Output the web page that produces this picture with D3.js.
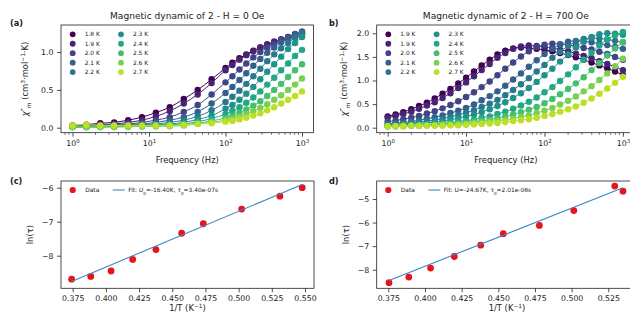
<!DOCTYPE html>
<html><head><meta charset="utf-8">
<script src="https://cdn.jsdelivr.net/npm/d3@7"></script>
<style>
body{margin:0;background:#fff}
svg{display:block}
text{font-family:"DejaVu Sans",sans-serif;fill:#222}
</style>
</head><body>
<svg id="fig" width="630" height="321"></svg>
<script>
// ---------------- DATA ----------------
const colors = ["#440154","#482475","#414487","#355f8d","#2a788e","#21918c","#22a884","#44bf70","#7ad151","#bddf26"];

// Panel (a): H = 0 Oe
const labelsA = ["1.8 K","1.9 K","2.0 K","2.1 K","2.2 K","2.3 K","2.4 K","2.5 K","2.6 K","2.7 K"];
const freqA = [1, 1.52, 2.31, 3.51, 5.34, 8.11, 12.3, 18.7, 28.5, 43.3, 65.8, 100, 123, 152, 187, 231, 285, 351, 433, 534, 658, 811, 1000];
const a18 = [0.03,0.04,0.06,0.07,0.10,0.14,0.20,0.27,0.38,0.50,0.64,0.79,0.86,0.92,0.97,1.02,1.06,1.10,1.13,1.16,1.18,1.20,1.22];
const a19 = [0.02,0.03,0.04,0.05,0.07,0.10,0.15,0.22,0.32,0.44,0.59,0.76,0.83,0.90,0.96,1.01,1.06,1.10,1.14,1.17,1.20,1.23,1.25];
const a20 = [0.02,0.02,0.03,0.04,0.05,0.07,0.10,0.14,0.21,0.30,0.44,0.60,0.68,0.77,0.85,0.93,1.00,1.06,1.11,1.16,1.20,1.24,1.27];
const a21 = [0.02,0.02,0.02,0.03,0.04,0.05,0.07,0.10,0.14,0.21,0.32,0.46,0.54,0.63,0.72,0.82,0.91,0.99,1.06,1.13,1.18,1.23,1.27];
const a22 = [0.02,0.02,0.02,0.02,0.03,0.04,0.05,0.07,0.10,0.15,0.23,0.34,0.41,0.49,0.58,0.68,0.78,0.88,0.97,1.05,1.12,1.19,1.25];
const a23 = [0.01,0.01,0.02,0.02,0.02,0.03,0.04,0.05,0.07,0.11,0.16,0.25,0.30,0.37,0.45,0.54,0.64,0.74,0.84,0.94,1.04,1.12,1.20];
const a24 = [0.01,0.01,0.01,0.02,0.02,0.02,0.03,0.04,0.05,0.08,0.12,0.18,0.22,0.27,0.33,0.40,0.48,0.57,0.66,0.76,0.85,0.95,1.03];
const a25 = [0.01,0.01,0.01,0.01,0.02,0.02,0.02,0.03,0.04,0.06,0.09,0.13,0.16,0.20,0.24,0.29,0.35,0.42,0.50,0.58,0.67,0.76,0.84];
const a26 = [0.01,0.01,0.01,0.01,0.01,0.02,0.02,0.02,0.03,0.05,0.07,0.10,0.12,0.15,0.18,0.22,0.26,0.31,0.37,0.43,0.50,0.57,0.65];
const a27 = [0.03,0.04,0.03,0.03,0.03,0.03,0.03,0.03,0.04,0.05,0.06,0.08,0.09,0.11,0.13,0.16,0.19,0.23,0.27,0.32,0.37,0.42,0.48];
const seriesA = [a18,a19,a20,a21,a22,a23,a24,a25,a26,a27];

// Panel (b): H = 700 Oe
const labelsB = ["1.9 K","1.9 K","2.0 K","2.1 K","2.2 K","2.3 K","2.4 K","2.5 K","2.6 K","2.7 K"];
const freqB = [1, 1.26, 1.58, 2.0, 2.51, 3.16, 3.98, 5.01, 6.31, 7.94, 10, 12.6, 15.8, 20.0, 25.1, 31.6, 39.8, 50.1, 63.1, 79.4, 100, 126, 158, 200, 251, 316, 398, 501, 631, 794, 1000];
const b19a = [0.24,0.28,0.33,0.39,0.46,0.53,0.62,0.72,0.82,0.94,1.06,1.19,1.32,1.44,1.55,1.63,1.68,1.70,1.69,1.67,1.65,1.62,1.58,1.54,1.49,1.44,1.38,1.32,1.26,1.19,1.12];
const b19b = [0.21,0.25,0.29,0.34,0.40,0.47,0.54,0.63,0.73,0.84,0.96,1.09,1.22,1.35,1.48,1.58,1.67,1.72,1.74,1.73,1.71,1.69,1.65,1.62,1.57,1.52,1.47,1.41,1.35,1.29,1.22];
const b20 = [0.13,0.15,0.18,0.21,0.25,0.30,0.35,0.41,0.48,0.56,0.65,0.75,0.86,0.98,1.11,1.25,1.38,1.51,1.62,1.71,1.76,1.78,1.77,1.75,1.73,1.69,1.66,1.61,1.56,1.50,1.44];
const b21 = [0.08,0.10,0.11,0.13,0.16,0.19,0.22,0.26,0.31,0.36,0.42,0.49,0.58,0.67,0.77,0.89,1.02,1.15,1.29,1.43,1.56,1.67,1.76,1.82,1.84,1.83,1.81,1.78,1.75,1.71,1.67];
const b22 = [0.06,0.07,0.08,0.10,0.12,0.14,0.16,0.19,0.23,0.27,0.32,0.37,0.44,0.51,0.59,0.69,0.80,0.92,1.05,1.19,1.33,1.48,1.61,1.73,1.82,1.88,1.90,1.89,1.87,1.84,1.81];
const b23 = [0.04,0.05,0.06,0.07,0.09,0.10,0.12,0.14,0.17,0.20,0.24,0.28,0.33,0.39,0.46,0.54,0.63,0.73,0.84,0.97,1.11,1.25,1.40,1.55,1.70,1.82,1.92,1.98,2.00,1.99,1.97];
const b24 = [0.03,0.03,0.04,0.05,0.05,0.06,0.08,0.09,0.11,0.13,0.15,0.17,0.21,0.24,0.29,0.34,0.40,0.47,0.55,0.64,0.75,0.86,0.99,1.13,1.28,1.44,1.59,1.74,1.87,1.96,2.03];
const b25 = [0.03,0.03,0.03,0.04,0.04,0.05,0.06,0.07,0.08,0.09,0.11,0.13,0.15,0.17,0.20,0.24,0.28,0.33,0.38,0.44,0.52,0.61,0.71,0.82,0.94,1.07,1.22,1.37,1.53,1.68,1.81];
const b26 = [0.03,0.03,0.04,0.04,0.04,0.05,0.05,0.06,0.07,0.07,0.08,0.10,0.11,0.13,0.15,0.17,0.19,0.23,0.26,0.31,0.36,0.42,0.49,0.57,0.66,0.77,0.88,1.01,1.15,1.30,1.46];
const b27 = [0.03,0.03,0.03,0.04,0.04,0.04,0.04,0.04,0.05,0.05,0.06,0.07,0.08,0.09,0.10,0.12,0.14,0.16,0.18,0.21,0.25,0.29,0.34,0.39,0.45,0.53,0.62,0.72,0.83,0.95,1.08];
const seriesB = [b19a,b19b,b20,b21,b22,b23,b24,b25,b26,b27];

// Panel (c): Arrhenius, H = 0 Oe
const invTC = [0.3742,0.3886,0.4039,0.4202,0.4377,0.4571,0.4734,0.5023,0.5311,0.5479];
const lnTauC = [-8.69,-8.61,-8.45,-8.11,-7.82,-7.34,-7.06,-6.63,-6.25,-6.00];
const fitC = {U: 16.40, tau0: 3.40e-07};
// Panel (d): Arrhenius, H = 700 Oe
const invTD = [0.3755,0.3890,0.4038,0.4200,0.4380,0.4534,0.4780,0.5015,0.5294,0.5350];
const lnTauD = [-8.55,-8.31,-7.93,-7.44,-6.96,-6.47,-6.12,-5.49,-4.45,-4.67];
const fitD = {U: 24.67, tau0: 2.01e-08};

const ticksAy = [0, 0.5, 1.0];
const ticksBy = [0, 0.5, 1.0, 1.5, 2.0];
const ticksLogX = [1, 10, 100, 1000];
const ticksCx = [0.375,0.400,0.425,0.450,0.475,0.500,0.525,0.550];
const ticksDx = [0.375,0.400,0.425,0.450,0.475,0.500,0.525];
const ticksCy = [-6,-7,-8];
const ticksDy = [-5,-6,-7,-8];

// ---------------- DRAW ----------------
const svg = d3.select("#fig");
const INK = "#222";
const TICKFS = 7.8, LABFS = 8.4, TITLEFS = 9.1, LEGFS = 5.9;
const fmtMinus = v => String(v).replace("-", "\u2212");

let clipId = 0;
function frame(L, R, T, B) {
  const id = "clip" + (clipId++);
  svg.append("clipPath").attr("id", id).append("rect").attr("x", L).attr("y", T).attr("width", R - L).attr("height", B - T);
  return id;
}

function addRich(sel, parts) {
  parts.forEach(p => {
    const t = sel.append("tspan").text(p.t);
    if (p.it) t.attr("font-style", "italic");
    if (p.sup) t.attr("baseline-shift", "super").attr("font-size", "70%");
    if (p.sub) t.attr("baseline-shift", "sub").attr("font-size", "70%");
  });
}

function axes(x, y, L, R, T, B, xt, yt, xfmt, yfmt, logMinor) {
  const g = svg.append("g");
  const ya = d3.axisLeft(y).tickValues(yt).tickFormat(yfmt).tickSize(4).tickPadding(3.5);
  const gy = g.append("g").attr("transform", `translate(${L},0)`).call(ya);
  gy.select(".domain").remove();
  gy.selectAll("line").attr("stroke", INK).attr("stroke-width", 0.8);
  gy.selectAll("text").attr("font-size", TICKFS).attr("fill", INK).attr("font-family", "DejaVu Sans");
  const xa = d3.axisBottom(x).tickValues(xt).tickSize(4).tickPadding(3.5);
  if (logMinor) xa.tickFormat(() => ""); else xa.tickFormat(xfmt);
  const gx = g.append("g").attr("transform", `translate(0,${B})`).call(xa);
  gx.select(".domain").remove();
  gx.selectAll("line").attr("stroke", INK).attr("stroke-width", 0.8);
  gx.selectAll("text").attr("font-size", TICKFS).attr("fill", INK).attr("font-family", "DejaVu Sans");
  if (logMinor) {
    gx.selectAll(".tick text").each(function(d) {
      const t = d3.select(this);
      t.text(null);
      addRich(t, [{t: "10"}, {t: String(Math.round(Math.log10(d))), sup: true}]);
    });
    const [d0, d1] = x.domain();
    const minors = [];
    for (let e = Math.floor(Math.log10(d0)); e <= Math.ceil(Math.log10(d1)); e++)
      for (let m = 2; m <= 9; m++) { const v = m * Math.pow(10, e); if (v >= d0 && v <= d1) minors.push(v); }
    g.append("g").selectAll("line").data(minors).join("line")
      .attr("x1", d => x(d)).attr("x2", d => x(d)).attr("y1", B).attr("y2", B + 2.2)
      .attr("stroke", INK).attr("stroke-width", 0.6);
  }
  return g;
}

function box(L, R, T, B) {
  svg.append("rect").attr("x", L).attr("y", T).attr("width", R - L).attr("height", B - T)
    .attr("fill", "none").attr("stroke", INK).attr("stroke-width", 0.8);
}

function chiLabel(cx, cy) {
  const t = svg.append("text").attr("transform", `translate(${cx},${cy}) rotate(-90)`)
    .attr("text-anchor", "middle").attr("font-size", LABFS);
  addRich(t, [{t: "\u03c7", it: true}, {t: "\u2033"}, {t: "m", it: true, sub: true}, {t: " (cm"}, {t: "3", sup: true}, {t: "\u00b7mol"}, {t: "\u22121", sup: true}, {t: "\u00b7K)"}]);
}

function freqPanel(L, R, T, B, xdom, ydom, yt, freqs, series, labels, title, tag, legX) {
  const x = d3.scaleLog().domain(xdom).range([L, R]);
  const y = d3.scaleLinear().domain(ydom).range([B, T]);
  const cid = frame(L, R, T, B);
  const g = svg.append("g").attr("clip-path", `url(#${cid})`);
  series.forEach((vals, i) => {
    const pts = freqs.map((f, j) => ({f, v: vals[j]}));
    g.append("g").selectAll("circle").data(pts).join("circle")
      .attr("cx", d => x(d.f)).attr("cy", d => y(d.v)).attr("r", 3.2).attr("fill", colors[i]);
    g.append("path").datum(pts)
      .attr("d", d3.line().x(d => x(d.f)).y(d => y(d.v)).curve(d3.curveMonotoneX))
      .attr("fill", "none").attr("stroke", colors[i]).attr("stroke-width", 1);
  });
  axes(x, y, L, R, T, B, ticksLogX, yt, null, d => d.toFixed(1), true);
  box(L, R, T, B);
  labels.forEach((lab, i) => {
    const col = Math.floor(i / 5), row = i % 5;
    const lx = legX + col * 48.3, ly = 34.3 + row * 9.45;
    svg.append("circle").attr("cx", lx).attr("cy", ly).attr("r", 2.9).attr("fill", colors[i]);
    svg.append("text").attr("x", lx + 12).attr("y", ly + 2.1).attr("font-size", LEGFS).text(lab);
  });
  svg.append("text").attr("x", (L + Math.min(R, 635)) / 2).attr("y", 18.5).attr("text-anchor", "middle")
    .attr("font-size", TITLEFS).text(title);
  svg.append("text").attr("x", (L + R) / 2).attr("y", 162.5).attr("text-anchor", "middle")
    .attr("font-size", LABFS).text("Frequency (Hz)");
  svg.append("text").attr("x", tag.x).attr("y", 25.5).attr("font-size", 8.2).attr("font-weight", "bold").text(tag.t);
}

function arrPanel(L, R, T, B, xdom, ydom, xt, yt, xs, ys, fit, fitParts, tag, legX, labX) {
  const x = d3.scaleLinear().domain(xdom).range([L, R]);
  const y = d3.scaleLinear().domain(ydom).range([B, T]);
  const cid = frame(L, R, T, B);
  const g = svg.append("g").attr("clip-path", `url(#${cid})`);
  const xr = d3.extent(xs);
  const fitPts = xr.map(v => ({x: v, y: Math.log(fit.tau0) + fit.U * v}));
  g.append("g").selectAll("circle").data(xs.map((v, i) => ({x: v, y: ys[i]}))).join("circle")
    .attr("cx", d => x(d.x)).attr("cy", d => y(d.y)).attr("r", 3.4).attr("fill", "#e8141b");
  g.append("path").datum(fitPts).attr("d", d3.line().x(d => x(d.x)).y(d => y(d.y)))
    .attr("fill", "none").attr("stroke", "#3a86c8").attr("stroke-width", 1.1);
  axes(x, y, L, R, T, B, xt, yt, d => d.toFixed(3), d => fmtMinus(d), false);
  box(L, R, T, B);
  svg.append("circle").attr("cx", legX).attr("cy", 190).attr("r", 3.1).attr("fill", "#e8141b");
  svg.append("text").attr("x", legX + 12.5).attr("y", 192.1).attr("font-size", LEGFS).text("Data");
  svg.append("line").attr("x1", legX + 40).attr("x2", legX + 52).attr("y1", 190).attr("y2", 190)
    .attr("stroke", "#3a86c8").attr("stroke-width", 1.1);
  const ft = svg.append("text").attr("x", legX + 55.5).attr("y", 192.1).attr("font-size", LEGFS);
  addRich(ft, fitParts);
  svg.append("text").attr("x", labX).attr("y", 310.5).attr("text-anchor", "middle").attr("font-size", LABFS)
    .call(t => addRich(t, [{t: "1/T (K"}, {t: "\u22121", sup: true}, {t: ")"}]));
  const yl = svg.append("text").attr("transform", `translate(${L - 28},${(T + B) / 2}) rotate(-90)`)
    .attr("text-anchor", "middle").attr("font-size", LABFS);
  addRich(yl, [{t: "ln("}, {t: "\u03c4"}, {t: ")"}]);
  svg.append("text").attr("x", tag.x).attr("y", 184).attr("font-size", 8.2).attr("font-weight", "bold").text(tag.t);
}

freqPanel(61, 313.5, 25, 132.7, [Math.pow(10, -0.15), Math.pow(10, 3.15)], [-0.0661, 1.3585], ticksAy,
  freqA, seriesA, labelsA, "Magnetic dynamic of 2 - H = 0 Oe", {x: 10, t: "(a)"}, 72.7);
chiLabel(27.5, 79);
freqPanel(376.7, 635, 25, 132.7, [Math.pow(10, -0.14), Math.pow(10, 3.154)], [-0.1059, 2.1758], ticksBy,
  freqB, seriesB, labelsB, "Magnetic dynamic of 2 - H = 700 Oe", {x: 329, t: "b)"}, 388.3);
chiLabel(347, 79);
arrPanel(61, 314, 181, 288.3, [0.36619, 0.55678], [-8.959, -5.803], ticksCx, ticksCy, invTC, lnTauC, fitC,
  [{t: "Fit: "}, {t: "U", it: true}, {t: "0", sub: true}, {t: "=-16.40K, "}, {t: "\u03c4"}, {t: "0", sub: true}, {t: "=3.40e-07s"}],
  {x: 10, t: "(c)"}, 72.7, 187.5);
arrPanel(376.7, 635, 181, 288.3, [0.36709, 0.5432], [-8.7879, -4.2364], ticksDx, ticksDy, invTD, lnTauD, fitD,
  [{t: "Fit: U=-24.67K, "}, {t: "\u03c4"}, {t: "0", sub: true}, {t: "=2.01e-08s"}],
  {x: 329, t: "d)"}, 388.3, 507);
</script>
</body></html>
